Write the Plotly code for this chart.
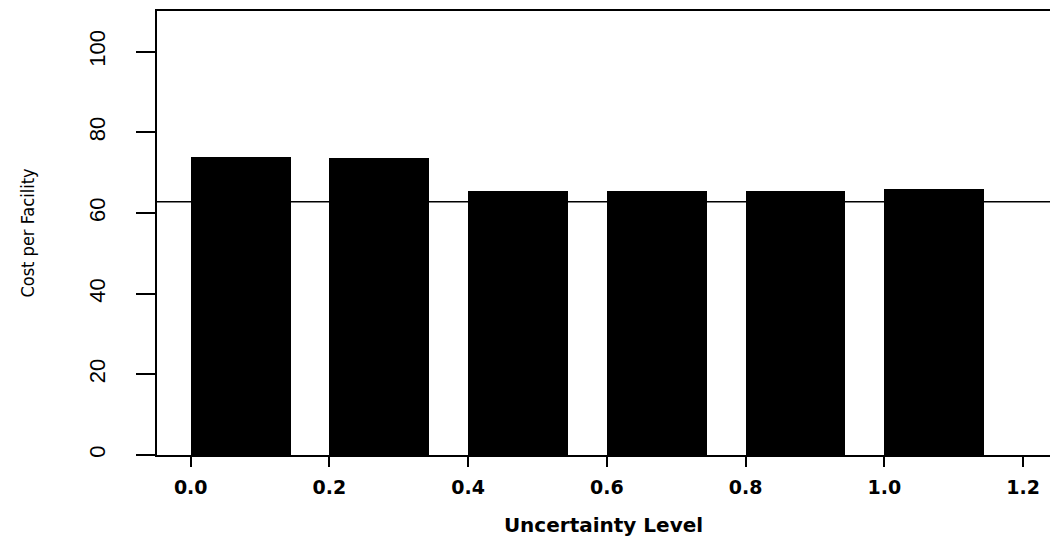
import plotly.graph_objects as go

# Uncertainty levels (left edge of each bar) and cost per facility
levels = [0.0, 0.2, 0.4, 0.6, 0.8, 1.0]
cost = [74.0, 73.6, 65.5, 65.5, 65.5, 66.0]
bar_width = 0.144
reference_cost = 62.8

x_ticks = [0.0, 0.2, 0.4, 0.6, 0.8, 1.0, 1.2]
x_ticklabels = ["0.0", "0.2", "0.4", "0.6", "0.8", "1.0", "1.2"]
y_ticks = [0, 20, 40, 60, 80, 100]

x_range = [-0.0486, 1.2389]
y_range = [0, 110.1]

narrow = "DejaVu Sans Condensed, Liberation Sans Narrow, Liberation Sans, sans-serif"
plain = "Liberation Sans, Arial, sans-serif"
wide = "DejaVu Sans, Verdana, sans-serif"

fig = go.Figure()

# reference level drawn beneath the bars
fig.add_trace(go.Scatter(
    x=x_range, y=[reference_cost, reference_cost],
    mode="lines", line=dict(color="black", width=1.5),
    hoverinfo="skip", showlegend=False,
))

fig.add_trace(go.Bar(
    x=levels, y=cost, width=bar_width, offset=0,
    marker=dict(color="black", line=dict(width=0)),
    showlegend=False,
))

fig.update_layout(
    width=1050, height=542,
    margin=dict(l=157, r=0, t=11, b=87),
    paper_bgcolor="white", plot_bgcolor="white",
    bargap=0,
    xaxis=dict(
        range=x_range, tickvals=x_ticks, ticktext=x_ticklabels,
        showgrid=False, zeroline=False,
        showline=True, linecolor="black", linewidth=1.5, mirror=True,
        ticks="outside", ticklen=10, tickwidth=1.5, tickcolor="black",
        tickfont=dict(family=wide, size=19, color="black", weight="bold"),
        ticklabelstandoff=4,
        title=dict(text="Uncertainty Level", standoff=21,
                   font=dict(family=wide, size=20, color="black", weight="bold")),
    ),
    yaxis=dict(
        range=y_range, tickvals=y_ticks,
        showgrid=False, zeroline=False,
        showline=True, linecolor="black", linewidth=2,
        ticks="outside", ticklen=19, tickwidth=1.5, tickcolor="black",
        tickangle=-90,
        tickfont=dict(family=plain, size=22, color="black"),
        ticklabelstandoff=22,
        title=dict(text="Cost per Facility", standoff=46,
                   font=dict(family=narrow, size=18, color="black")),
    ),
    shapes=[
        # x axis line continues a little past the y axis on the left
        dict(type="line", xref="paper", yref="y",
             x0=-20 / 893, x1=0, y0=0, y1=0,
             line=dict(color="black", width=1.5)),
    ],
)

fig.write_html("out.html")
